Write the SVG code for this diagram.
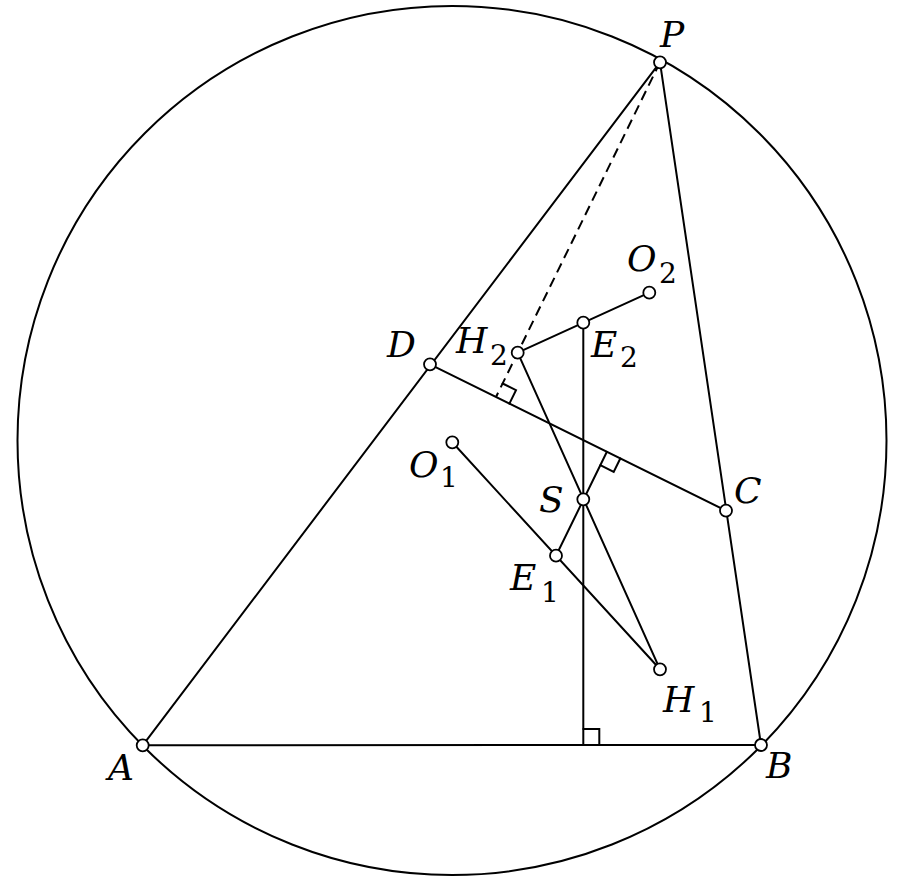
<svg xmlns="http://www.w3.org/2000/svg" width="898" height="884" viewBox="0 0 898 884">
<style>
.ln{stroke:#000;stroke-width:2;fill:none;stroke-linecap:round}
.dash{stroke-dasharray:10 6;stroke-linecap:butt}
.pt{fill:#fff;stroke:#000;stroke-width:1.8}
.lbl{font-family:"DejaVu Serif",serif;font-style:italic;font-size:36px;fill:#000}
.sub{font-family:"DejaVu Serif",serif;font-style:normal;font-size:28px}
</style>
<rect width="898" height="884" fill="#fff"/>
<g id="connectors">
<circle class="ln" cx="452" cy="440.5" r="434.5"/>
<line class="ln" x1="660" y1="62.3" x2="142.7" y2="745.3"/>
<line class="ln" x1="660" y1="62.3" x2="761" y2="745"/>
<line class="ln" x1="142.7" y1="745.3" x2="761" y2="745"/>
<line class="ln" x1="430" y1="364.3" x2="726" y2="510.7"/>
<line class="ln dash" x1="660" y1="62.3" x2="496" y2="397"/>
<line class="ln" x1="583.3" y1="322.7" x2="583.3" y2="745"/>
<line class="ln" x1="556" y1="555.7" x2="606.9" y2="451.8"/>
<line class="ln" x1="517.7" y1="352.7" x2="660" y2="669.3"/>
<line class="ln" x1="452.3" y1="442.3" x2="660" y2="669.3"/>
<line class="ln" x1="517.7" y1="352.7" x2="649.3" y2="292.7"/>
<polyline class="ln" points="502.6,383.5 516.0,390.2 509.4,403.6"/>
<polyline class="ln" points="600.3,465.2 613.7,471.9 620.3,458.5"/>
<polyline class="ln" points="583.3,729 599.3,729 599.3,745"/>
</g>
<g id="P"><circle class="pt" cx="660" cy="62.3" r="6"/><text class="lbl" x="660" y="47">P</text></g>
<g id="A"><circle class="pt" cx="142.7" cy="745.3" r="6"/><text class="lbl" x="108" y="780">A</text></g>
<g id="B"><circle class="pt" cx="761" cy="745" r="6"/><text class="lbl" x="766" y="778">B</text></g>
<g id="C"><circle class="pt" cx="726" cy="510.7" r="6"/><text class="lbl" x="734" y="503">C</text></g>
<g id="D"><circle class="pt" cx="430" cy="364.3" r="6"/><text class="lbl" x="387" y="357">D</text></g>
<g id="S"><circle class="pt" cx="583.3" cy="499.3" r="6"/><text class="lbl" x="539" y="512">S</text></g>
<g id="E1"><circle class="pt" cx="556" cy="555.7" r="6"/><text class="lbl" x="510" y="590">E</text><text class="lbl sub" x="541" y="602">1</text></g>
<g id="E2"><circle class="pt" cx="583.3" cy="322.7" r="6"/><text class="lbl" x="591" y="357">E</text><text class="lbl sub" x="620" y="367">2</text></g>
<g id="H1"><circle class="pt" cx="660" cy="669.3" r="6"/><text class="lbl" x="663" y="712">H</text><text class="lbl sub" x="699" y="722">1</text></g>
<g id="H2"><circle class="pt" cx="517.7" cy="352.7" r="6"/><text class="lbl" x="456" y="353">H</text><text class="lbl sub" x="490" y="365">2</text></g>
<g id="O1"><circle class="pt" cx="452.3" cy="442.3" r="6"/><text class="lbl" x="409" y="477">O</text><text class="lbl sub" x="440" y="487">1</text></g>
<g id="O2"><circle class="pt" cx="649.3" cy="292.7" r="6"/><text class="lbl" x="627" y="271">O</text><text class="lbl sub" x="659" y="283">2</text></g>
</svg>
